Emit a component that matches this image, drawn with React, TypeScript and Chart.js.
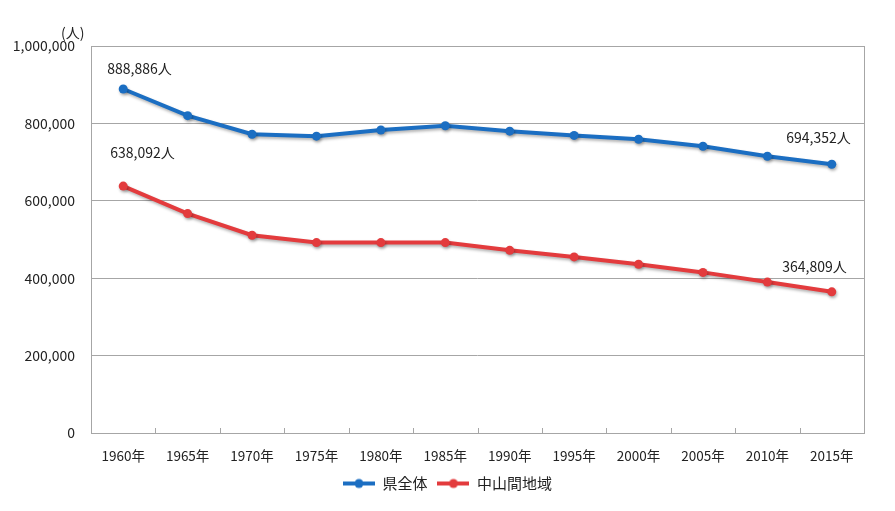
import React, { useEffect, useRef } from "react";
import { Chart, registerables } from "chart.js";

Chart.register(...registerables);

const years = ["1960年", "1965年", "1970年", "1975年", "1980年", "1985年", "1990年", "1995年", "2000年", "2005年", "2010年", "2015年"];
const prefTotal = [888886, 820000, 772000, 767000, 783000, 794000, 780000, 769000, 759000, 741000, 715000, 694352];
const hillyArea = [638092, 567000, 511000, 492000, 492000, 492000, 472000, 455000, 436000, 415000, 390000, 364809];
const seriesNames = ["県全体", "中山間地域"];
const seriesColors = ["#1b6ec2", "#e33b3d"];
const yTicks = [0, 200000, 400000, 600000, 800000, 1000000];
const unitLabel = "(人)";

const FONT = "'Noto Sans CJK JP', 'Noto Sans', sans-serif";
const GRID = "#a6a6a6";

function fmt(v: number) {
  return v.toLocaleString("en-US");
}

function legendImage(color: string) {
  const c = document.createElement("canvas");
  c.width = 32;
  c.height = 12;
  const ctx = c.getContext("2d")!;
  ctx.strokeStyle = color;
  ctx.lineWidth = 4;
  ctx.beginPath();
  ctx.moveTo(0, 6);
  ctx.lineTo(32, 6);
  ctx.stroke();
  ctx.fillStyle = color;
  ctx.beginPath();
  ctx.arc(16, 6, 4.5, 0, Math.PI * 2);
  ctx.fill();
  return c;
}

const decorPlugin = {
  id: "decor",
  afterLayout(chart: any) {
    const lg = chart.legend;
    if (lg) {
      const shift = 31;
      lg.left += shift;
    }
  },
  beforeDatasetsDraw(chart: any) {
    const { ctx, chartArea: a, scales } = chart;
    ctx.save();
    ctx.strokeStyle = GRID;
    ctx.lineWidth = 1;
    ctx.strokeRect(Math.round(a.left) + 0.5, Math.round(a.top) + 0.5, Math.round(a.right - a.left), Math.round(a.bottom - a.top));
    const x = scales.x;
    const n = years.length;
    for (let i = 1; i < n; i++) {
      const px = Math.round((x.getPixelForValue(i - 1) + x.getPixelForValue(i)) / 2) + 0.5;
      ctx.beginPath();
      ctx.moveTo(px, a.bottom);
      ctx.lineTo(px, a.bottom - 5);
      ctx.stroke();
    }
    ctx.restore();
  },
  beforeDatasetDraw(chart: any) {
    const ctx = chart.ctx;
    ctx.save();
    ctx.shadowColor = "rgba(0,0,0,0.3)";
    ctx.shadowBlur = 3;
    ctx.shadowOffsetX = 1;
    ctx.shadowOffsetY = 2;
  },
  afterDatasetDraw(chart: any) {
    chart.ctx.restore();
  },
  afterDatasetsDraw(chart: any) {
    const { ctx, chartArea: a } = chart;
    ctx.save();
    ctx.fillStyle = "#222";
    ctx.font = `14px ${FONT}`;
    ctx.textBaseline = "middle";
    ctx.textAlign = "left";
    ctx.fillText(unitLabel, a.left - 30, a.top - 13);
    const m0 = chart.getDatasetMeta(0).data;
    const m1 = chart.getDatasetMeta(1).data;
    const last = years.length - 1;
    ctx.textAlign = "left";
    ctx.fillText(fmt(prefTotal[0]) + "人", m0[0].x - 16, m0[0].y - 20);
    ctx.fillText(fmt(hillyArea[0]) + "人", m1[0].x - 13, m1[0].y - 33);
    ctx.textAlign = "right";
    ctx.fillText(fmt(prefTotal[last]) + "人", m0[last].x + 19, m0[last].y - 27);
    ctx.fillText(fmt(hillyArea[last]) + "人", m1[last].x + 15, m1[last].y - 25);
    ctx.restore();
  },
};

export default function App() {
  const ref = useRef<HTMLCanvasElement | null>(null);
  useEffect(() => {
    const chart = new Chart(ref.current!, {
      type: "line",
      data: {
        labels: years,
        datasets: [prefTotal, hillyArea].map((d, i) => ({
          label: seriesNames[i],
          data: d,
          borderColor: seriesColors[i],
          backgroundColor: seriesColors[i],
          borderWidth: 4,
          pointRadius: 4.5,
          pointHoverRadius: 4.5,
          pointBorderWidth: 0,
          tension: 0,
          fill: false,
        })),
      },
      options: {
        animation: false,
        responsive: false,
        maintainAspectRatio: false,
        events: [],
        layout: { padding: { top: 46, right: 31, bottom: 10, left: 0 } },
        plugins: {
          tooltip: { enabled: false },
          legend: {
            position: "bottom",
            labels: {
              usePointStyle: true,
              pointStyleWidth: 32,
              padding: 10,
              color: "#222",
              font: { family: FONT, size: 15 },
              generateLabels: () =>
                seriesNames.map((name, i) => ({
                  text: name,
                  pointStyle: legendImage(seriesColors[i]) as any,
                  fillStyle: seriesColors[i],
                  strokeStyle: seriesColors[i],
                  lineWidth: 0,
                  hidden: false,
                  datasetIndex: i,
                  fontColor: "#222",
                })),
            },
          },
        },
        scales: {
          x: {
            offset: true,
            grid: { display: false, drawTicks: false },
            border: { display: false },
            ticks: { color: "#222", font: { family: FONT, size: 13.5 }, padding: 15, maxRotation: 0, autoSkip: false },
            afterFit: (s: any) => {
              s.height = 33;
            },
          },
          y: {
            min: 0,
            max: 1000000,
            afterBuildTicks: (s: any) => {
              s.ticks = yTicks.map((v) => ({ value: v }));
            },
            grid: { color: GRID, drawTicks: false, lineWidth: 1 },
            border: { display: false },
            ticks: {
              color: "#222",
              font: { family: FONT, size: 14 },
              padding: 16,
              callback: (v: any) => fmt(Number(v)),
            },
            afterFit: (s: any) => {
              s.width = 91;
            },
          },
        },
      },
      plugins: [decorPlugin],
    } as any);
    return () => chart.destroy();
  }, []);
  return (
    <div style={{ position: "fixed", left: 0, top: 0, width: 895, height: 511, background: "#fff" }}>
      <canvas ref={ref} width={895} height={511} style={{ width: 895, height: 511, display: "block" }} />
    </div>
  );
}
